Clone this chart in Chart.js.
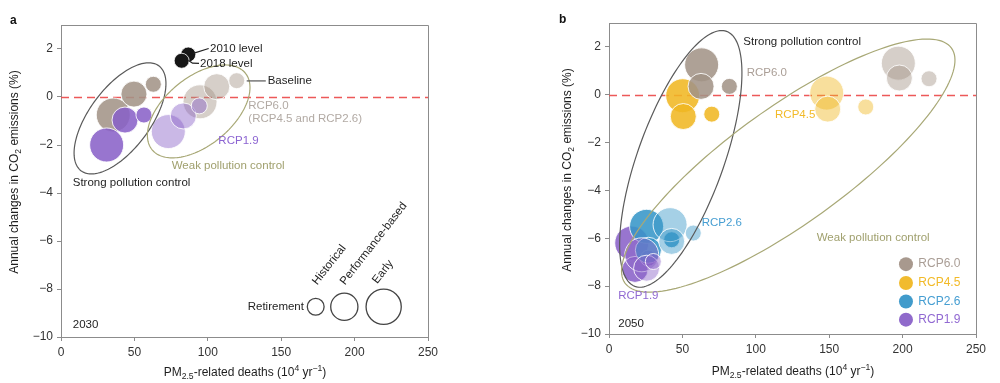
<!DOCTYPE html>
<html>
<head>
<meta charset="utf-8">
<script src="https://cdn.jsdelivr.net/npm/chart.js@4.4.0/dist/chart.umd.min.js"></script>
<style>
  html, body { margin: 0; padding: 0; background: #fff; }
  #wrap { position: relative; width: 1000px; height: 383px; }
  .panel { position: absolute; top: 0; width: 500px; height: 383px; }
  #panel-a { left: 0; }
  #panel-b { left: 500px; }
</style>
</head>
<body>
<div id="wrap">
  <div class="panel" id="panel-a"><canvas id="chart-a" width="500" height="383"></canvas></div>
  <div class="panel" id="panel-b"><canvas id="chart-b" width="500" height="383"></canvas></div>
</div>
<script>
// Axis ticks
const X_TICKS = [0, 50, 100, 150, 200, 250];
const Y_TICKS = [-10, -8, -6, -4, -2, 0, 2];

// Every group of three points is ordered: early, performance-based, historical retirement
const RETIREMENT = ['Early', 'Performance-based', 'Historical'];
const SCENARIOS = ['RCP6.0', 'RCP4.5', 'RCP2.6', 'RCP1.9'];

// Panel a (2030)
const A_LEVEL_NAMES = ['2010 level', '2018 level'];
const A_LEVEL_X = [86.7, 82.2];
const A_LEVEL_Y = [1.77, 1.51];
const A_STRONG_RCP60_X = [35.6, 49.7, 62.9];
const A_STRONG_RCP60_Y = [-0.75, 0.12, 0.53];
const A_STRONG_RCP19_X = [31.1, 43.6, 56.5];
const A_STRONG_RCP19_Y = [-2.0, -0.96, -0.75];
const A_WEAK_RCP60_X = [94.7, 106.1, 119.7];
const A_WEAK_RCP60_Y = [-0.2, 0.43, 0.68];
const A_WEAK_RCP19_X = [73.1, 83.3, 94.2];
const A_WEAK_RCP19_Y = [-1.44, -0.79, -0.37];

// Panel b (2050)
const B_STRONG_RCP60_X = [63.1, 62.7, 82.0];
const B_STRONG_RCP60_Y = [1.25, 0.35, 0.35];
const B_STRONG_RCP45_X = [50.2, 50.6, 70.0];
const B_STRONG_RCP45_Y = [-0.04, -0.91, -0.81];
const B_STRONG_RCP26_X = [25.6, 26.8, 42.7];
const B_STRONG_RCP26_Y = [-5.5, -6.5, -6.06];
const B_STRONG_RCP19_X = [15.5, 17.7, 26.8];
const B_STRONG_RCP19_Y = [-6.2, -7.3, -6.83];
const B_WEAK_RCP60_X = [197.1, 197.8, 218.0];
const B_WEAK_RCP60_Y = [1.32, 0.70, 0.67];
const B_WEAK_RCP45_X = [148.3, 149.0, 174.9];
const B_WEAK_RCP45_Y = [0.07, -0.6, -0.51];
const B_WEAK_RCP26_X = [41.6, 42.7, 57.4];
const B_WEAK_RCP26_Y = [-5.43, -6.13, -5.78];
const B_WEAK_RCP19_X = [22.3, 25.6, 30.2];
const B_WEAK_RCP19_Y = [-6.69, -7.25, -6.97];

// Styles
const FONT = '"Liberation Sans", Arial, Helvetica, sans-serif';
const AXIS = '#8c8c8c';
const SIZE_R = [17, 13, 8];
const COL = {
  'RCP6.0': [163, 148, 136],
  'RCP4.5': [240, 183, 35],
  'RCP2.6': [55, 150, 200],
  'RCP1.9': [138, 98, 200]
};
const STRONG_A = 0.88;
const WEAK_A = 0.45;
const OLIVE = 'rgb(168,168,118)';
const rgba = (c, a) => `rgba(${c[0]},${c[1]},${c[2]},${a})`;

function bubbles(xs, ys, color) {
  return {
    data: xs.map((x, i) => ({ x, y: ys[i], r: SIZE_R[i] })),
    backgroundColor: color,
    borderColor: 'rgba(255,255,255,0.85)',
    borderWidth: 1
  };
}

// Text with sub/superscripts: parts = [{t, s:'sub'|'sup'}]
function drawRich(ctx, parts, x, y, size, align) {
  let total = 0;
  const widths = parts.map(p => {
    ctx.font = `${p.s ? size * 0.72 : size}px ${FONT}`;
    const w = ctx.measureText(p.t).width;
    total += w;
    return w;
  });
  let cx = align === 'center' ? x - total / 2 : x;
  ctx.textAlign = 'left';
  ctx.textBaseline = 'middle';
  parts.forEach((p, i) => {
    ctx.font = `${p.s ? size * 0.72 : size}px ${FONT}`;
    const dy = p.s === 'sub' ? size * 0.3 : p.s === 'sup' ? -size * 0.35 : 0;
    ctx.fillText(p.t, cx, y + dy);
    cx += widths[i];
  });
}

const X_TITLE = [{ t: 'PM' }, { t: '2.5', s: 'sub' }, { t: '-related deaths (10' }, { t: '4', s: 'sup' }, { t: ' yr' }, { t: '\u22121', s: 'sup' }, { t: ')' }];
const Y_TITLE = [{ t: 'Annual changes in CO' }, { t: '2', s: 'sub' }, { t: ' emissions (%)' }];

// One plugin per panel; the config stays a plain object (not resolved by Chart.js)
function makeDecor(o) {
  return {
    id: 'decor',
    beforeDatasetsDraw(chart) {
      const { ctx, chartArea: ca, scales: { y } } = chart;
      const y0 = Math.round(y.getPixelForValue(0)) + 0.5;
      ctx.save();
      ctx.strokeStyle = 'rgba(236,80,80,0.95)';
      ctx.lineWidth = 1.3;
      ctx.setLineDash([8, 5]);
      ctx.beginPath();
      ctx.moveTo(ca.left, y0);
      ctx.lineTo(ca.right, y0);
      ctx.stroke();
      ctx.restore();
    },
    afterDatasetsDraw(chart) {
      const { ctx, scales: { x, y } } = chart;
      ctx.save();
      (o.ellipses || []).forEach(e => {
        ctx.strokeStyle = e.color;
        ctx.lineWidth = 1.2;
        ctx.beginPath();
        for (let k = 0; k <= 160; k++) {
          const t = k / 160 * Math.PI * 2;
          const px = x.getPixelForValue(e.c[0] + e.u[0] * Math.cos(t) + e.v[0] * Math.sin(t));
          const py = y.getPixelForValue(e.c[1] + e.u[1] * Math.cos(t) + e.v[1] * Math.sin(t));
          if (k) ctx.lineTo(px, py); else ctx.moveTo(px, py);
        }
        ctx.closePath();
        ctx.stroke();
      });
      ctx.restore();
    },
    afterDraw(chart) {
      const { ctx, chartArea: ca, scales: { x, y } } = chart;
      ctx.save();
      // frame top and right
      ctx.strokeStyle = AXIS;
      ctx.lineWidth = 1;
      ctx.beginPath();
      ctx.moveTo(ca.left, Math.round(ca.top) + 0.5);
      ctx.lineTo(Math.round(ca.right) + 0.5, Math.round(ca.top) + 0.5);
      ctx.lineTo(Math.round(ca.right) + 0.5, ca.bottom);
      ctx.stroke();

      // leader lines
      (o.leaders || []).forEach(l => {
        ctx.strokeStyle = l.color;
        ctx.lineWidth = 1.2;
        ctx.beginPath();
        l.pts.forEach((p, i) => {
          const px = x.getPixelForValue(p[0]), py = y.getPixelForValue(p[1]);
          if (i) ctx.lineTo(px, py); else ctx.moveTo(px, py);
        });
        ctx.stroke();
      });

      // texts
      (o.texts || []).forEach(t => {
        ctx.fillStyle = t.color || '#1e1e1e';
        ctx.font = `${t.size || 11.5}px ${FONT}`;
        ctx.textBaseline = 'middle';
        ctx.textAlign = t.align || 'left';
        const px = x.getPixelForValue(t.x), py = y.getPixelForValue(t.y);
        if (t.rot) {
          ctx.save();
          ctx.translate(px, py);
          ctx.rotate(t.rot * Math.PI / 180);
          ctx.textBaseline = 'alphabetic';
          ctx.fillText(t.text, 0, 0);
          ctx.restore();
        } else {
          ctx.fillText(t.text, px, py);
        }
      });

      // circle keys
      (o.keys || []).forEach(k => {
        ctx.beginPath();
        ctx.arc(x.getPixelForValue(k.x), y.getPixelForValue(k.y), k.r, 0, Math.PI * 2);
        if (k.fill) { ctx.fillStyle = k.fill; ctx.fill(); }
        if (k.stroke) { ctx.strokeStyle = k.stroke; ctx.lineWidth = 1.3; ctx.stroke(); }
      });

      // axis titles
      ctx.fillStyle = '#1e1e1e';
      drawRich(ctx, X_TITLE, o.xTitle[0], o.xTitle[1], 12, 'center');
      ctx.save();
      ctx.translate(o.yTitle[0], o.yTitle[1]);
      ctx.rotate(-Math.PI / 2);
      drawRich(ctx, Y_TITLE, 0, 0, 12, 'center');
      ctx.restore();

      // panel letter
      ctx.fillStyle = '#111';
      ctx.font = `bold 12px ${FONT}`;
      ctx.textAlign = 'left';
      ctx.textBaseline = 'middle';
      ctx.fillText(o.letter[0], o.letter[1], o.letter[2]);
      ctx.restore();
    }
  };
}

const fmtTick = v => (v < 0 ? '\u2212' + Math.abs(v) : String(v));

function makeScales(xHeight, yWidth) {
  const common = () => ({
    type: 'linear',
    border: { color: AXIS, width: 1 },
    grid: { drawOnChartArea: false, tickLength: 4, tickColor: AXIS, tickWidth: 1 },
    ticks: { font: { family: FONT, size: 12 }, color: '#333', padding: 4, maxRotation: 0, callback: fmtTick }
  });
  return {
    x: Object.assign(common(), {
      min: 0, max: 250,
      afterBuildTicks: a => { a.ticks = X_TICKS.map(v => ({ value: v })); },
      afterFit: s => { s.height = xHeight; }
    }),
    y: Object.assign(common(), {
      min: -10, max: 3,
      afterBuildTicks: a => { a.ticks = Y_TICKS.map(v => ({ value: v })); },
      afterFit: s => { s.width = yWidth; }
    })
  };
}

function makeChart(id, datasets, padding, xHeight, yWidth, decor) {
  return new Chart(document.getElementById(id), {
    type: 'bubble',
    data: { datasets },
    options: {
      responsive: false,
      animation: false,
      events: [],
      layout: { padding },
      scales: makeScales(xHeight, yWidth),
      plugins: { legend: { display: false }, tooltip: { enabled: false } }
    },
    plugins: [makeDecor(decor)]
  });
}

// ---------- Panel a ----------
const aLayers = [
  bubbles(A_WEAK_RCP60_X, A_WEAK_RCP60_Y, rgba(COL['RCP6.0'], WEAK_A)),
  bubbles(A_WEAK_RCP19_X, A_WEAK_RCP19_Y, rgba(COL['RCP1.9'], WEAK_A)),
  bubbles(A_STRONG_RCP60_X, A_STRONG_RCP60_Y, rgba(COL['RCP6.0'], STRONG_A)),
  bubbles(A_STRONG_RCP19_X, A_STRONG_RCP19_Y, rgba(COL['RCP1.9'], STRONG_A)),
  {
    data: A_LEVEL_X.map((x, i) => ({ x, y: A_LEVEL_Y[i], r: 7.5 })),
    backgroundColor: '#161616',
    borderColor: 'rgba(255,255,255,0.8)',
    borderWidth: 1
  }
].reverse();

makeChart('chart-a', aLayers, { left: 0, right: 72, top: 25, bottom: 0 }, 46, 61, {
  letter: ['a', 10, 21],
  xTitle: [245, 373],
  yTitle: [15, 172],
  ellipses: [
    { c: [40.2, -0.89], u: [26.4, 2.19], v: [16.8, -0.75], color: '#5a5a5a' },
    { c: [93.8, -0.60], u: [31.7, 1.6], v: [14.7, -1.09], color: OLIVE }
  ],
  leaders: [
    { pts: [[90.1, 1.82], [100.6, 2.02]], color: '#222' },
    { pts: [[86.9, 1.52], [89.6, 1.41], [94.0, 1.40]], color: '#222' },
    { pts: [[126.5, 0.67], [139.5, 0.67]], color: '#555' }
  ],
  texts: [
    { text: A_LEVEL_NAMES[0], x: 101.5, y: 1.99 },
    { text: A_LEVEL_NAMES[1], x: 94.7, y: 1.40 },
    { text: 'Baseline', x: 140.8, y: 0.67 },
    { text: 'RCP6.0', x: 127.6, y: -0.38, color: 'rgb(178,170,164)' },
    { text: '(RCP4.5 and RCP2.6)', x: 127.6, y: -0.90, color: 'rgb(178,170,164)' },
    { text: 'RCP1.9', x: 107.2, y: -1.82, color: 'rgb(140,100,210)' },
    { text: 'Weak pollution control', x: 75.4, y: -2.86, color: 'rgb(160,160,110)' },
    { text: 'Strong pollution control', x: 8, y: -3.57 },
    { text: '2030', x: 8, y: -9.5 },
    { text: 'Retirement', x: 165.5, y: -8.74, align: 'right' },
    { text: RETIREMENT[2], x: 174.5, y: -7.85, rot: -52 },
    { text: RETIREMENT[1], x: 193.5, y: -7.85, rot: -52 },
    { text: RETIREMENT[0], x: 215.5, y: -7.8, rot: -52 }
  ],
  keys: [
    { x: 173.5, y: -8.74, r: SIZE_R[2] + 0.4, stroke: '#444' },
    { x: 193.0, y: -8.74, r: SIZE_R[1] + 0.6, stroke: '#444' },
    { x: 219.8, y: -8.74, r: SIZE_R[0] + 0.6, stroke: '#444' }
  ]
});

// ---------- Panel b ----------
const bLayers = [
  bubbles(B_WEAK_RCP45_X, B_WEAK_RCP45_Y, rgba(COL['RCP4.5'], WEAK_A)),
  bubbles(B_WEAK_RCP60_X, B_WEAK_RCP60_Y, rgba(COL['RCP6.0'], WEAK_A)),
  bubbles(B_STRONG_RCP45_X, B_STRONG_RCP45_Y, rgba(COL['RCP4.5'], STRONG_A)),
  bubbles(B_STRONG_RCP60_X, B_STRONG_RCP60_Y, rgba(COL['RCP6.0'], STRONG_A)),
  bubbles(B_STRONG_RCP19_X, B_STRONG_RCP19_Y, rgba(COL['RCP1.9'], STRONG_A)),
  bubbles(B_STRONG_RCP26_X, B_STRONG_RCP26_Y, rgba(COL['RCP2.6'], STRONG_A)),
  bubbles(B_WEAK_RCP19_X, B_WEAK_RCP19_Y, rgba(COL['RCP1.9'], WEAK_A)),
  bubbles(B_WEAK_RCP26_X, B_WEAK_RCP26_Y, rgba(COL['RCP2.6'], WEAK_A))
].reverse();

const LEGEND_Y = [-7.08, -7.87, -8.64, -9.4];
const LABEL_COL = {
  'RCP6.0': 'rgb(170,158,150)',
  'RCP4.5': 'rgb(242,186,40)',
  'RCP2.6': 'rgb(70,158,210)',
  'RCP1.9': 'rgb(145,105,210)'
};

makeChart('chart-b', bLayers, { left: 0, right: 24, top: 23, bottom: 0 }, 49, 109, {
  letter: ['b', 59, 20],
  xTitle: [293, 372],
  yTitle: [68, 170],
  ellipses: [
    { c: [48.9, -2.68], u: [31.2, 5.33], v: [27.6, -0.61], color: '#5a5a5a' },
    { c: [122.1, -2.96], u: [111.2, 4.91], v: [23.1, -1.97], color: OLIVE }
  ],
  texts: [
    { text: 'Strong pollution control', x: 91.5, y: 2.23 },
    { text: 'RCP6.0', x: 93.8, y: 0.93, color: LABEL_COL['RCP6.0'] },
    { text: 'RCP4.5', x: 113.1, y: -0.84, color: LABEL_COL['RCP4.5'] },
    { text: 'RCP2.6', x: 63.1, y: -5.34, color: LABEL_COL['RCP2.6'] },
    { text: 'RCP1.9', x: 6.3, y: -8.4, color: LABEL_COL['RCP1.9'] },
    { text: 'Weak pollution control', x: 141.5, y: -5.99, color: 'rgb(160,160,110)' },
    { text: '2050', x: 6.3, y: -9.57 }
  ].concat(SCENARIOS.map((s, i) => ({ text: s, x: 210.7, y: LEGEND_Y[i], color: LABEL_COL[s], size: 12 }))),
  keys: SCENARIOS.map((s, i) => ({ x: 202.3, y: LEGEND_Y[i], r: 7, fill: rgba(COL[s], 0.95) }))
});
</script>
</body>
</html>
